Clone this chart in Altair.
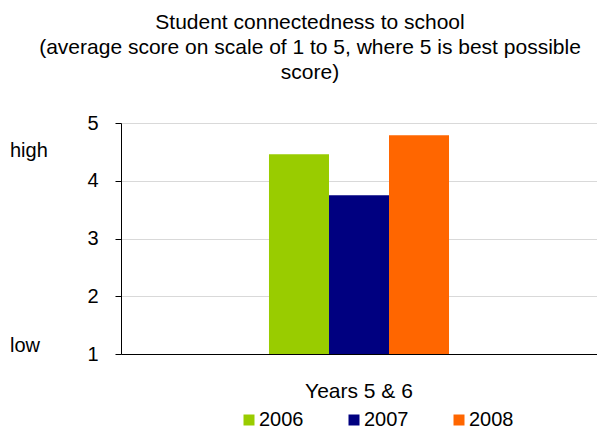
import altair as alt
import pandas as pd

# Survey values
groups = ["Years 5 & 6"]
years = ["2006", "2007", "2008"]
scores = [4.46, 3.75, 4.79]
colors = ["#99CC00", "#000080", "#FF6600"]

# Scale end notes shown beside the y axis
note_text = ["high", "low"]
note_score = [4.41, 1.03]

FONT = "Liberation Sans"

bars_df = pd.DataFrame({
    "group": groups * len(years),
    "year": years,
    "score": scores,
})
notes_df = pd.DataFrame({"note": note_text, "score": note_score})

y_scale = alt.Scale(domain=[1, 5], zero=False, nice=False)

bars = alt.Chart(bars_df).mark_bar().encode(
    x=alt.X(
        "group:N",
        title=None,
        scale=alt.Scale(paddingInner=0, paddingOuter=0.822),
        axis=alt.Axis(
            labelAngle=0, ticks=False, labelPadding=26, labelFontSize=21,
            labelFont=FONT, labelColor="#000000", domainColor="#000000",
            grid=False, domainWidth=1,
        ),
    ),
    xOffset=alt.XOffset("year:N", scale=alt.Scale(paddingInner=0, paddingOuter=0)),
    y=alt.Y(
        "score:Q",
        scale=y_scale,
        title=None,
        axis=alt.Axis(
            values=[1, 2, 3, 4, 5], tickSize=6, tickColor="#000000",
            labelPadding=17, labelFontSize=20, labelFont=FONT,
            labelColor="#000000", domainColor="#000000",
            gridColor="#D9D9D9", gridWidth=1, format="d",
        ),
    ),
    y2=alt.datum(1),
    color=alt.Color(
        "year:N",
        scale=alt.Scale(domain=years, range=colors),
        legend=alt.Legend(
            title=None, orient="none", legendX=118, legendY=287,
            direction="horizontal", symbolType="square", symbolSize=121,
            symbolStrokeWidth=0, labelFontSize=20, labelFont=FONT,
            labelColor="#000000", columnPadding=40, labelOffset=0,
        ),
    ),
)

notes = alt.Chart(notes_df).mark_text(
    align="left", baseline="alphabetic", fontSize=20, font=FONT, color="#000000"
).encode(
    x=alt.value(-111),
    y=alt.Y("score:Q", scale=y_scale),
    text="note:N",
)

chart = alt.layer(bars, notes).properties(
    width=476,
    height=231,
    title=alt.Title(
        ["Student connectedness to school",
         "(average score on scale of 1 to 5, where 5 is best possible",
         "score)"],
        fontSize=21, font=FONT, fontWeight="normal", color="#000000",
        anchor="middle", dx=-49, offset=30, lineHeight=25,
    ),
    autosize=alt.AutoSizeParams(type="none"),
    padding={"left": 121, "top": 123, "right": 0, "bottom": 76},
).configure_view(stroke=None).configure(background="white")

chart.save("out.html", embed_options={"renderer": "svg", "actions": False})
